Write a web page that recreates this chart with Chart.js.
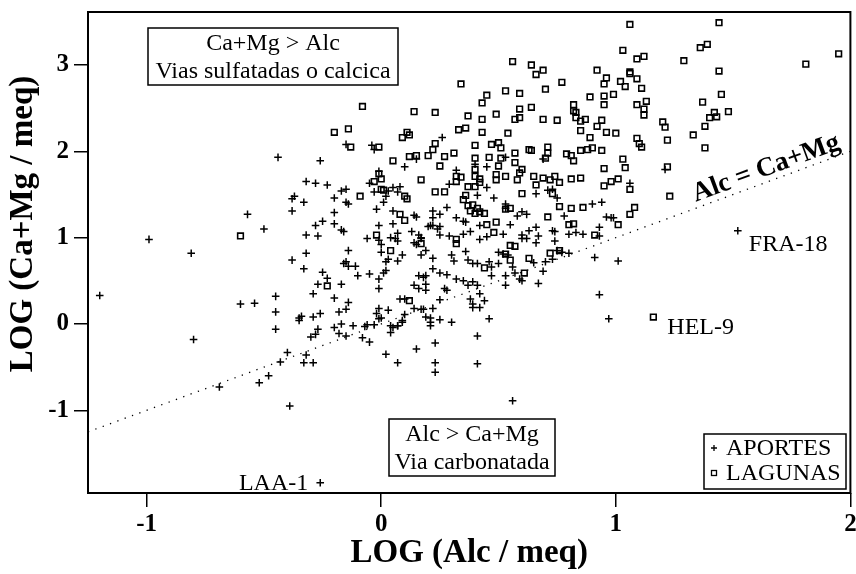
<!DOCTYPE html>
<html>
<head>
<meta charset="utf-8">
<script src="https://cdn.jsdelivr.net/npm/chart.js@4/dist/chart.umd.min.js"></script>
<style>
  html, body { margin: 0; padding: 0; background: #fff; }
  #wrap { width: 856px; height: 574px; }
</style>
</head>
<body>
<div id="wrap"><canvas id="chart" width="856" height="574"></canvas></div>
<script>
// LOG(Alc/meq) vs LOG(Ca+Mg/meq), values as [x, y]
const aportes = [
  [-0.44, 1.93], [-0.26, 1.89],
  [0.26, 2.16], [-0.15, 2.08], [-0.04, 2.07], [-0.03, 2.02], [0.10, 1.82], [0.15, 1.91],
  [0.32, 1.78], [0.40, 1.85], [0.45, 1.82], [0.53, 1.93], [0.69, 1.91], [-0.01, 1.77],
  [1.21, 1.79],
  [1.06, 1.63], [0.94, 1.41], [0.96, 1.24], [0.98, 1.23], [0.99, 1.23], [0.93, 1.12],
  [0.93, 1.02], [1.52, 1.08], [1.01, 0.73], [0.93, 0.34], [0.97, 0.06],
  [-0.32, 1.65], [-0.28, 1.63], [-0.23, 1.61], [-0.17, 1.54], [-0.37, 1.48], [-0.38, 1.45],
  [-0.33, 1.41], [-0.20, 1.46], [-0.38, 1.31], [-0.20, 1.29], [-0.57, 1.27], [-0.25, 1.19],
  [-0.28, 1.14], [-0.20, 1.16], [-0.17, 1.09], [-0.50, 1.10], [-0.32, 1.03], [-0.27, 1.02],
  [-0.99, 0.98], [-0.81, 0.82], [-0.32, 0.82], [-0.38, 0.74], [-0.33, 0.64], [-0.25, 0.60],
  [-0.23, 0.53], [-0.27, 0.46], [-0.17, 0.46], [-0.16, 0.70], [-0.29, 0.35], [-0.20, 0.30],
  [-1.20, 0.33], [-0.60, 0.23], [-0.54, 0.24], [-0.45, 0.32], [-0.45, 0.14], [-0.35, 0.04],
  [-0.34, 0.09], [-0.35, 0.07], [-0.29, 0.08], [-0.26, 0.12], [-0.18, 0.14], [-0.45, -0.06],
  [-0.27, -0.06], [-0.20, -0.04], [-0.17, 0.00],
  [-0.80, -0.18], [-0.30, -0.15], [-0.28, -0.12], [-0.18, -0.11], [-0.40, -0.33], [-0.32, -0.36],
  [-0.43, -0.44], [-0.33, -0.45], [-0.29, -0.45], [-0.48, -0.60], [-0.52, -0.68], [-0.69, -0.73],
  [-0.39, -0.95], [-0.26, -1.84],
  [-0.15, -0.14], [-0.08, -0.16], [-0.05, -0.21], [0.04, -0.10], [0.23, -0.22], [0.15, -0.29],
  [0.02, -0.35], [0.07, -0.45], [0.23, -0.45], [0.23, -0.56], [0.41, -0.14], [0.41, -0.46],
  [0.56, -0.89],
  [-0.15, 1.56], [-0.05, 1.63], [-0.03, 1.53], [0.05, 1.58], [0.08, 1.59], [0.03, 1.54],
  [0.07, 1.53], [0.02, 1.48], [0.29, 1.62], [0.45, 1.58], [0.41, 1.49], [0.48, 1.46],
  [0.66, 1.51], [0.73, 1.56], [0.71, 1.55], [0.75, 1.46], [-0.15, 1.41], [-0.14, 1.39],
  [-0.02, 1.33], [0.01, 1.41], [0.05, 1.31], [0.14, 1.26], [0.15, 1.24], [0.22, 1.31],
  [0.25, 1.27], [0.22, 1.23], [0.28, 1.35], [0.32, 1.23], [0.36, 1.18], [0.53, 1.39],
  [0.53, 1.34], [0.58, 1.25], [0.60, 1.30], [0.62, 1.27], [0.78, 1.25], [0.90, 1.39],
  [-0.16, 1.07], [-0.01, 1.14], [0.05, 1.16], [0.07, 1.05], [0.06, 0.99], [0.13, 1.07],
  [0.16, 1.03], [0.17, 1.00], [0.20, 1.13], [0.21, 1.14], [0.22, 1.14], [0.24, 1.10],
  [0.25, 1.13], [0.25, 1.03], [0.29, 1.02], [0.35, 1.19], [0.35, 1.04], [0.38, 1.07],
  [0.42, 1.14], [0.42, 0.98], [0.45, 1.01], [0.52, 1.04], [0.55, 1.15], [0.60, 1.03],
  [0.62, 0.99], [0.63, 1.08], [0.66, 1.12], [0.67, 1.02], [0.73, 1.08], [0.74, 1.07],
  [0.80, 1.04], [0.83, 1.06], [0.86, 1.04], [0.74, 0.96], [0.66, 0.94], [0.60, 0.99],
  [-0.06, 0.99], [-0.01, 0.97], [0.04, 1.00], [0.07, 0.96], [0.14, 0.94], [0.15, 0.92],
  [0.17, 0.99], [0.00, 0.92], [0.00, 0.83], [-0.14, 0.85], [0.09, 0.80], [0.07, 0.73],
  [0.02, 0.72], [0.03, 0.75], [-0.14, 0.67], [-0.11, 0.67], [-0.15, 0.72], [0.17, 0.80],
  [0.19, 0.85], [0.22, 0.76], [0.22, 0.64], [0.30, 0.80], [0.31, 0.73], [0.36, 0.84],
  [0.37, 0.74], [0.39, 0.70], [0.41, 0.70], [0.46, 0.72], [0.47, 0.66], [0.50, 0.83],
  [0.50, 0.70], [0.52, 0.81], [0.54, 0.80], [0.56, 0.66], [0.65, 0.71], [0.70, 0.72],
  [0.73, 0.75], [0.75, 0.85], [0.77, 0.83], [0.80, 0.82], [0.69, 0.61], [0.91, 0.77],
  [0.02, 0.62], [0.01, 0.59], [-0.05, 0.58], [-0.10, 0.56], [0.16, 0.56], [0.19, 0.56],
  [0.25, 0.59], [0.28, 0.57], [0.32, 0.52], [0.35, 0.50], [0.37, 0.45], [0.39, 0.49],
  [0.41, 0.45], [0.47, 0.56], [0.53, 0.56], [0.57, 0.59], [0.59, 0.52], [0.60, 0.50],
  [0.67, 0.47], [0.53, 0.45], [-0.01, 0.52], [-0.01, 0.41], [0.18, 0.54], [0.19, 0.46],
  [0.14, 0.45], [0.16, 0.41], [0.19, 0.39], [0.27, 0.41], [0.28, 0.39], [0.08, 0.29],
  [0.10, 0.29], [0.25, 0.28], [0.38, 0.29], [0.39, 0.23], [0.44, 0.27], [0.42, 0.35],
  [0.39, 0.19], [0.42, 0.19], [-0.14, 0.25], [-0.15, 0.17], [-0.01, 0.18], [-0.02, 0.12],
  [0.03, 0.16], [-0.01, 0.06], [0.00, 0.07], [0.10, 0.11], [0.09, 0.04], [0.07, -0.02],
  [0.09, 0.02], [0.14, 0.18], [0.17, 0.17], [0.18, 0.17], [0.22, 0.18], [0.21, 0.07],
  [0.19, 0.08], [0.25, 0.05], [0.21, 0.02], [0.30, 0.02], [0.46, 0.06], [-0.12, -0.02],
  [-0.07, -0.03], [-0.06, -0.01], [-0.03, -0.01], [0.04, -0.02], [0.05, -0.04], [0.07, -0.02],
  [0.21, -0.02]
];

const lagunas = [
  [-0.20, 2.22],
  [0.56, 3.04], [0.64, 3.00], [0.66, 2.89], [0.69, 2.94], [0.34, 2.78], [0.77, 2.80],
  [0.70, 2.72], [0.53, 2.70], [0.59, 2.67], [0.45, 2.65], [0.43, 2.56], [0.89, 2.63],
  [0.92, 2.94], [-0.08, 2.52], [0.14, 2.46], [0.23, 2.45], [0.59, 2.49], [0.64, 2.51],
  [0.49, 2.43], [0.37, 2.41], [0.43, 2.37], [0.57, 2.37], [0.59, 2.39], [0.69, 2.37],
  [0.75, 2.36], [0.82, 2.54], [0.82, 2.47], [0.83, 2.45], [0.83, 2.39], [0.85, 2.35],
  [0.87, 2.37], [0.92, 2.29], [-0.14, 2.26], [0.33, 2.25], [0.36, 2.27], [0.43, 2.22],
  [0.54, 2.21], [0.85, 2.24], [0.89, 2.16], [0.11, 2.22], [0.09, 2.16], [0.12, 2.19],
  [-0.13, 2.05], [-0.01, 2.05], [0.05, 1.89], [0.12, 1.94], [0.15, 1.95], [0.20, 1.95],
  [0.22, 2.02], [0.23, 2.09], [0.27, 1.94], [0.31, 1.98], [0.25, 1.83], [0.40, 2.07],
  [0.47, 2.08], [0.50, 2.10], [0.51, 2.04], [0.40, 1.92], [0.46, 1.93], [0.51, 1.92],
  [0.57, 1.98], [0.57, 1.87], [0.63, 2.02], [0.64, 2.01], [0.71, 2.05], [0.71, 1.98],
  [0.70, 1.92], [0.79, 1.97], [0.81, 1.95], [0.82, 1.89], [0.85, 2.01], [0.88, 2.02],
  [0.90, 2.04], [0.50, 1.83], [0.60, 1.79], [0.40, 1.79],
  [1.06, 3.47], [1.44, 3.49], [1.03, 3.17], [1.36, 3.20], [1.39, 3.24], [1.09, 3.07],
  [1.12, 3.10], [1.29, 3.05], [1.81, 3.01], [1.95, 3.13], [0.96, 2.85], [0.95, 2.78],
  [1.02, 2.81], [1.04, 2.75], [1.06, 2.90], [1.06, 2.92], [1.09, 2.84], [1.11, 2.73],
  [1.44, 2.93], [0.95, 2.64], [0.99, 2.66], [0.95, 2.54], [1.09, 2.54], [1.13, 2.58],
  [1.12, 2.49], [1.12, 2.42], [1.45, 2.66], [1.37, 2.57], [1.48, 2.46], [1.42, 2.45],
  [1.43, 2.40], [1.40, 2.39], [1.38, 2.29], [0.94, 2.36], [0.96, 2.22], [1.00, 2.21],
  [1.20, 2.34], [1.21, 2.28], [1.33, 2.19], [1.09, 2.15], [1.10, 2.09], [1.11, 2.05],
  [1.22, 2.13], [0.94, 2.01], [1.38, 2.04], [1.03, 1.91], [1.04, 1.81], [0.95, 1.80],
  [1.22, 1.82],
  [-0.60, 1.02], [-0.23, 0.44],
  [-0.01, 1.74], [-0.03, 1.65], [0.00, 1.68], [0.17, 1.67], [0.00, 1.56], [0.01, 1.55],
  [-0.09, 1.48], [0.10, 1.48], [0.11, 1.45], [0.23, 1.53], [0.27, 1.53], [0.32, 1.71],
  [0.34, 1.70], [0.32, 1.65], [0.37, 1.59], [0.40, 1.71], [0.42, 1.68], [0.42, 1.64],
  [0.40, 1.59], [0.49, 1.73], [0.53, 1.71], [0.49, 1.67], [0.58, 1.67], [0.59, 1.75],
  [0.65, 1.71], [0.69, 1.69], [0.66, 1.61], [0.72, 1.67], [0.74, 1.71], [0.76, 1.64],
  [0.81, 1.68], [0.85, 1.69], [0.36, 1.49], [0.35, 1.44], [0.60, 1.51], [0.73, 1.51],
  [0.37, 1.37], [0.39, 1.38], [0.41, 1.34], [0.38, 1.31], [0.42, 1.30], [0.44, 1.28],
  [0.40, 1.28], [0.55, 1.34], [0.53, 1.33], [0.76, 1.36], [0.81, 1.34], [0.86, 1.35],
  [0.08, 1.27], [0.10, 1.20], [0.71, 1.24], [0.45, 1.15], [0.49, 1.18], [0.80, 1.15],
  [0.82, 1.16], [0.48, 1.06], [-0.02, 1.03], [0.32, 0.98], [0.32, 0.93], [0.17, 0.93],
  [0.04, 0.85], [0.55, 0.91], [0.57, 0.90], [0.53, 0.81], [0.55, 0.74], [0.63, 0.76],
  [0.76, 0.85], [0.72, 0.82], [0.91, 1.03], [0.44, 0.65], [0.61, 0.59], [0.12, 0.27],
  [0.95, 1.60], [0.98, 1.65], [1.01, 1.68], [1.06, 1.56], [1.23, 1.48], [1.08, 1.35],
  [1.06, 1.27], [1.01, 1.15], [1.16, 0.08]
];

// 1:1 line  Alc = Ca+Mg
const lineX = [-1.25, 2];
const lineY = [-1.25, 2];

const xTicks = [-1, 0, 1, 2];
const yTicks = [-1, 0, 1, 2, 3];

// labelled samples
const pointLabels = [
  { text: "LAA-1", x: -0.26, y: -1.84, dx: -12, dy: 1, align: "right" },
  { text: "HEL-9", x: 1.16, y: 0.08, dx: 14, dy: 11, align: "left" },
  { text: "FRA-18", x: 1.52, y: 1.08, dx: 11, dy: 14, align: "left" }
];

const SERIF = "'Liberation Serif', 'Times New Roman', serif";

const toXY = (arr) => arr.map(([x, y]) => ({ x, y }));

const decorations = {
  id: "decorations",
  afterDraw(chart) {
    const { ctx, chartArea: a, scales } = chart;
    const sx = scales.x, sy = scales.y;
    ctx.save();

    // frame
    ctx.strokeStyle = "#000";
    ctx.lineWidth = 2;
    ctx.strokeRect(a.left, a.top, a.right - a.left, a.bottom - a.top);

    // axis titles
    ctx.fillStyle = "#000";
    ctx.font = "bold 33px " + SERIF;
    ctx.textAlign = "center";
    ctx.textBaseline = "middle";
    ctx.fillText("LOG (Alc / meq)", (a.left + a.right) / 2, 553);
    ctx.save();
    ctx.translate(23, 224);
    ctx.rotate(-Math.PI / 2);
    ctx.fillText("LOG (Ca+Mg / meq)", 0, 0);
    ctx.restore();

    // boxed notes
    const box = (x0, y0, x1, y1, lines) => {
      ctx.fillStyle = "#fff";
      ctx.fillRect(x0, y0, x1 - x0, y1 - y0);
      ctx.lineWidth = 1.5;
      ctx.strokeRect(x0, y0, x1 - x0, y1 - y0);
      ctx.fillStyle = "#000";
      ctx.font = "24px " + SERIF;
      ctx.textAlign = "center";
      ctx.textBaseline = "middle";
      const cx = (x0 + x1) / 2, h = (y1 - y0) / lines.length;
      lines.forEach((t, i) => ctx.fillText(t, cx, y0 + h * (i + 0.5) + 1));
    };
    box(148, 28, 398, 85, ["Ca+Mg > Alc", "Vias sulfatadas o calcica"]);
    box(389, 419, 555, 476, ["Alc > Ca+Mg", "Via carbonatada"]);

    // sample labels
    ctx.font = "24px " + SERIF;
    ctx.textBaseline = "middle";
    pointLabels.forEach((p) => {
      ctx.textAlign = p.align;
      ctx.fillText(p.text, sx.getPixelForValue(p.x) + p.dx, sy.getPixelForValue(p.y) + p.dy);
    });

    // label along the 1:1 line
    const lx = 1.66;
    const px = sx.getPixelForValue(lx), py = sy.getPixelForValue(lx);
    const ang = Math.atan2(sy.getPixelForValue(lineY[1]) - sy.getPixelForValue(lineY[0]),
                           sx.getPixelForValue(lineX[1]) - sx.getPixelForValue(lineX[0]));
    ctx.save();
    ctx.translate(px, py);
    ctx.rotate(ang);
    ctx.font = "bold 27px " + SERIF;
    ctx.textAlign = "center";
    ctx.textBaseline = "alphabetic";
    ctx.fillText("Alc = Ca+Mg", 0, -6);
    ctx.restore();

    // legend
    const lx0 = 704, ly0 = 434, lx1 = 846, ly1 = 489;
    ctx.fillStyle = "#fff";
    ctx.fillRect(lx0, ly0, lx1 - lx0, ly1 - ly0);
    ctx.lineWidth = 1.5;
    ctx.strokeRect(lx0, ly0, lx1 - lx0, ly1 - ly0);
    ctx.fillStyle = "#000";
    ctx.font = "24px " + SERIF;
    ctx.textAlign = "left";
    ctx.textBaseline = "middle";
    chart.data.datasets.slice(0, 2).forEach((ds, i) => {
      const yy = 448 + i * 25;
      ctx.lineWidth = 1.3;
      ctx.strokeStyle = "#000";
      if (ds.pointStyle === "cross") {
        ctx.beginPath();
        ctx.moveTo(711, yy); ctx.lineTo(717, yy);
        ctx.moveTo(714, yy - 3); ctx.lineTo(714, yy + 3);
        ctx.stroke();
      } else {
        ctx.strokeRect(711.5, yy - 2.5, 5, 5);
      }
      ctx.fillText(ds.label, 726, yy + 1);
    });
    ctx.restore();
  }
};

new Chart(document.getElementById("chart"), {
  type: "scatter",
  data: {
    datasets: [
      {
        label: "APORTES",
        data: toXY(aportes),
        pointStyle: "cross",
        radius: 3.8,
        borderColor: "#000",
        borderWidth: 1.5,
        backgroundColor: "#000"
      },
      {
        label: "LAGUNAS",
        data: toXY(lagunas),
        pointStyle: "rect",
        radius: 4,
        borderColor: "#000",
        borderWidth: 1.6,
        backgroundColor: "rgba(0,0,0,0)"
      },
      {
        type: "line",
        label: "1:1",
        data: lineX.map((x, i) => ({ x, y: lineY[i] })),
        borderColor: "#000",
        borderWidth: 1.3,
        borderDash: [1.3, 6.5],
        pointRadius: 0,
        fill: false
      }
    ]
  },
  options: {
    responsive: false,
    animation: false,
    events: [],
    layout: { padding: { top: 12, right: 5, left: 0, bottom: 0 } },
    plugins: {
      legend: { display: false },
      tooltip: { enabled: false }
    },
    scales: {
      x: {
        type: "linear",
        min: -1.25,
        max: 2,
        afterBuildTicks: (s) => { s.ticks = xTicks.map((v) => ({ value: v })); },
        afterFit: (s) => { s.height = 81; s.paddingLeft = 0; s.paddingRight = 0; },
        border: { display: false },
        grid: { drawOnChartArea: false, drawTicks: true, tickLength: 14, color: "#000", lineWidth: 1.5 },
        ticks: { color: "#000", padding: 3, font: { family: SERIF, size: 25, weight: "bold" } }
      },
      y: {
        type: "linear",
        min: -1.958,
        max: 3.614,
        afterBuildTicks: (s) => { s.ticks = yTicks.map((v) => ({ value: v })); },
        afterFit: (s) => { s.width = 88; s.paddingTop = 0; s.paddingBottom = 0; },
        border: { display: false },
        grid: { drawOnChartArea: false, drawTicks: true, tickLength: 14, color: "#000", lineWidth: 1.5 },
        ticks: { color: "#000", padding: 5, font: { family: SERIF, size: 25, weight: "bold" } }
      }
    }
  },
  plugins: [decorations]
});
</script>
</body>
</html>
